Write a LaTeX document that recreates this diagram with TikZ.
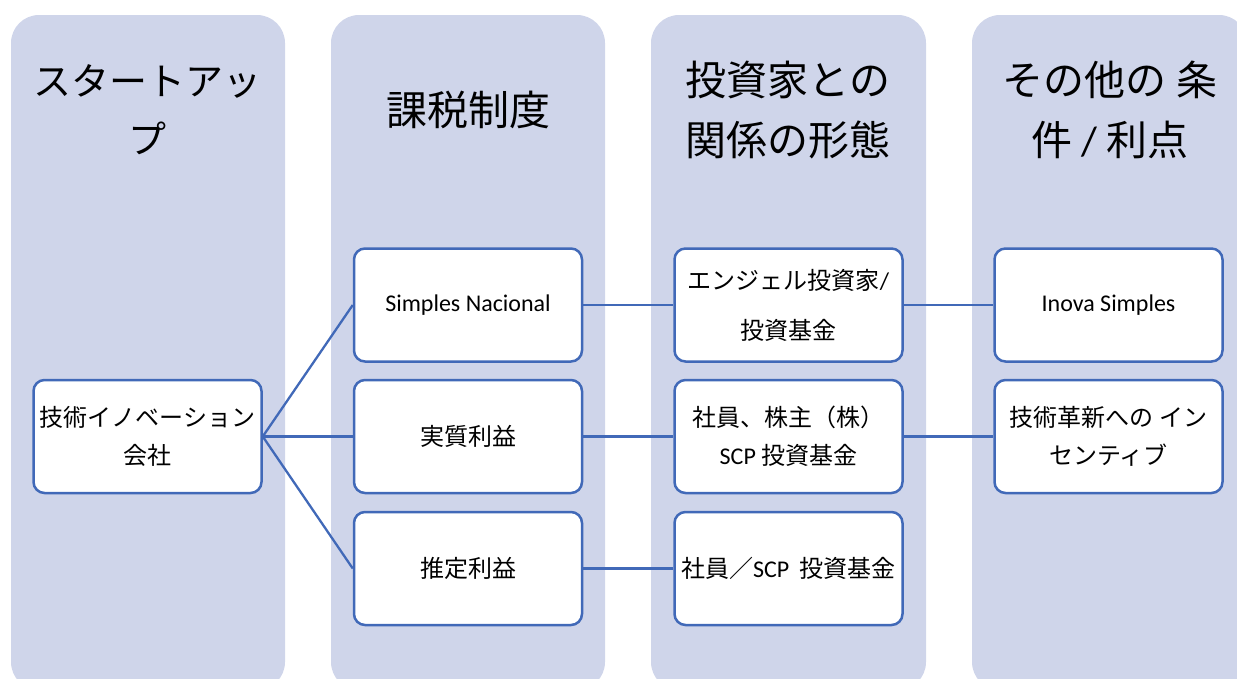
\documentclass[tikz,border=0pt]{standalone}
\usepackage{fontspec}
\setmainfont{Carlito}
\newfontfamily\jp{Noto Sans CJK JP}
\definecolor{lanefill}{HTML}{CFD5EA}
\definecolor{edgeblue}{HTML}{4169B8}
\newcommand\lat[1]{{\rmfamily\fontsize{24}{38}\selectfont #1}}
\begin{document}
\begin{tikzpicture}[x=1pt,y=-1pt,
  lane/.style={fill=lanefill, draw=none, rounded corners=28pt},
  box/.style={draw=edgeblue, line width=2.5pt, fill=white, rounded corners=11pt,
    minimum width=228pt, minimum height=113pt, align=center, inner sep=0pt,
    font=\jp\fontsize{24}{38}\selectfont},
  link/.style={draw=edgeblue, line width=2.3pt},
  head/.style={align=center, font=\jp\fontsize{41}{60}\selectfont}
]
\useasboundingbox (0,0) rectangle (1237,678);
\begin{scope}
\clip (0,0) rectangle (1237,678);
\fill[lane] (11,15) rectangle (285,690);
\fill[lane] (331,15) rectangle (605,690);
\fill[lane] (651,15) rectangle (926,690);
\fill[lane] (972,15) rectangle (1247,690);
\end{scope}

\node[head, font=\jp\fontsize{38}{58}\selectfont] (h1) at (148,110) {スタートアッ\\プ};
\node[head] (h2) at (468,110) {課税制度};
\node[head] (h3) at (788,110) {投資家との\\関係の形態};
\node[head] (h4) at (1110,110) {その他の 条\\件 {\rmfamily /} 利点};

\node[box] (tech) at (147.5,436.5) {技術イノベーション\\会社};

\node[box] (sn) at (468,305) {\lat{Simples Nacional}};
\node[box] (lr) at (468,436.5) {実質利益};
\node[box] (lp) at (468,568.5) {推定利益};

\node[box] (inv1) at (788.5,305) {エンジェル投資家\lat{/}\\[12pt]投資基金};
\node[box] (inv2) at (788.5,436.5) {社員、株主（株）\\\lat{SCP} 投資基金};
\node[box] (inv3) at (788.5,568.5) {社員／\lat{SCP}\ \ 投資基金};

\node[box] (ben1) at (1108.5,305) {\lat{Inova Simples}};
\node[box] (ben2) at (1108.5,436.5) {技術革新への イン\\センティブ};

\draw[link] (tech.east) -- (sn.west);
\draw[link] (tech.east) -- (lr.west);
\draw[link] (tech.east) -- (lp.west);
\draw[link] (sn.east) -- (inv1.west);
\draw[link] (lr.east) -- (inv2.west);
\draw[link] (lp.east) -- (inv3.west);
\draw[link] (inv1.east) -- (ben1.west);
\draw[link] (inv2.east) -- (ben2.west);
\end{tikzpicture}
\end{document}
